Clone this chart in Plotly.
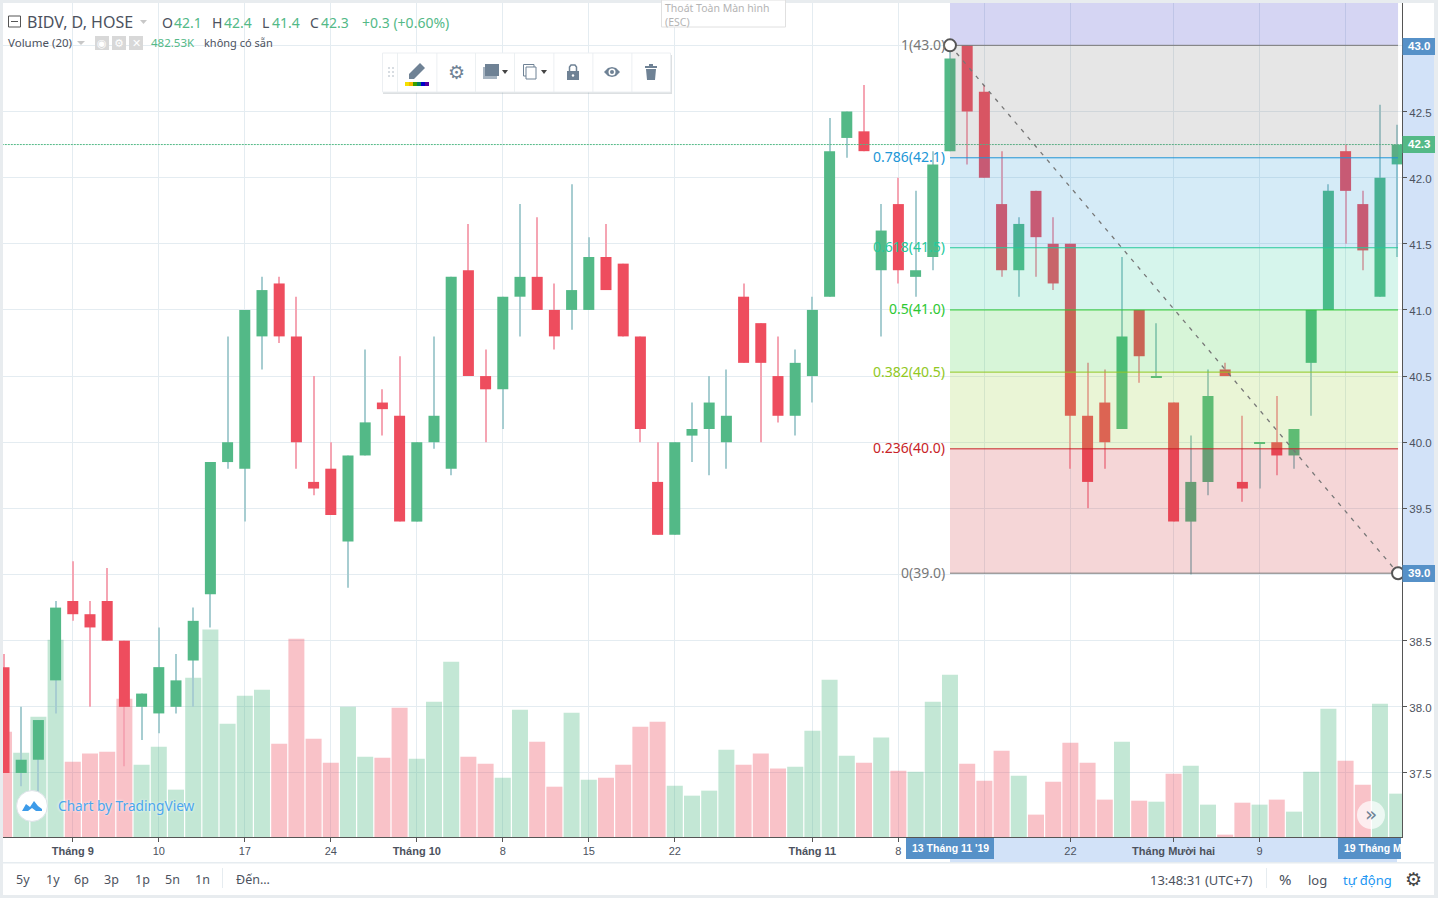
import plotly.graph_objects as go

opens = [38.3, 37.5, 37.6, 38.2, 38.8, 38.7, 38.8, 38.5, 38.0, 37.95, 38.0, 38.35, 38.85, 39.85, 39.8, 40.8, 41.2, 40.8, 39.7, 39.8, 39.25,
         39.9, 40.3, 40.2, 39.4, 40.0, 39.8, 41.3, 40.5, 40.4, 41.1, 41.25, 41.0, 41.0, 41.0, 41.4, 41.35, 40.8, 39.7, 39.3, 40.05,
         40.1, 40.0, 41.1, 40.9, 40.5, 40.2, 40.5, 41.1, 42.3, 42.35, 41.3, 41.8, 41.25, 41.4, 42.2, 43.0, 42.65, 41.8, 41.3, 41.9,
         41.5, 41.5, 40.2, 40.3, 40.1, 41.0, 40.49, 40.3, 39.4, 39.7, 40.55, 39.7, 39.99, 40.0, 39.9, 40.6, 41.0, 42.2, 41.8, 41.1, 42.1]
highs = [38.4, 38.0, 37.9, 38.8, 39.1, 38.8, 39.05, 38.5, 38.1, 38.6, 38.4, 38.75, 39.85, 40.8, 41.0, 41.25, 41.25, 41.1, 40.5, 40.0, 39.9,
         40.7, 40.4, 40.65, 40.0, 40.8, 41.25, 41.65, 40.7, 41.1, 41.8, 41.7, 41.2, 41.95, 41.55, 41.65, 41.35, 40.8, 40.0, 40.0, 40.3,
         40.5, 40.55, 41.2, 40.9, 40.8, 40.7, 41.1, 42.45, 42.5, 42.7, 41.8, 42.0, 41.9, 42.2, 43.0, 43.0, 42.7, 42.2, 41.7, 41.9,
         41.7, 41.5, 40.6, 40.55, 41.4, 41.0, 40.9, 40.3, 40.05, 40.55, 40.6, 40.2, 40.0, 40.35, 40.1, 41.0, 41.95, 42.25, 41.9, 42.55, 42.4]
lows = [37.5, 37.4, 37.35, 37.95, 38.65, 38.0, 38.5, 37.55, 37.75, 37.8, 37.95, 38.0, 38.6, 39.8, 39.4, 40.55, 40.75, 39.8, 39.6, 39.45, 38.9,
        39.9, 40.05, 39.4, 39.4, 39.95, 39.75, 40.5, 40.0, 40.1, 40.8, 41.0, 40.7, 40.85, 41.0, 41.15, 40.8, 40.0, 39.3, 39.3, 39.85,
        39.75, 39.8, 40.6, 40.0, 40.15, 40.05, 40.3, 41.1, 42.15, 42.2, 40.8, 41.2, 41.1, 41.3, 42.2, 42.1, 42.0, 41.25, 41.1, 41.25,
        41.15, 39.8, 39.5, 39.8, 40.1, 40.45, 40.49, 39.4, 39.0, 39.6, 40.5, 39.55, 39.65, 39.75, 39.8, 40.2, 41.0, 41.5, 41.3, 41.1, 41.4]
closes = [37.5, 37.6, 37.9, 38.75, 38.7, 38.6, 38.5, 38.0, 38.1, 38.3, 38.2, 38.65, 39.85, 40.0, 41.0, 41.15, 40.8, 40.0, 39.65, 39.45, 39.9,
          40.15, 40.25, 39.4, 40.0, 40.2, 41.25, 40.5, 40.4, 41.1, 41.25, 41.0, 40.8, 41.15, 41.4, 41.15, 40.8, 40.1, 39.3, 40.0, 40.1,
          40.3, 40.2, 40.6, 40.6, 40.2, 40.6, 41.0, 42.2, 42.5, 42.2, 41.6, 41.3, 41.3, 42.1, 42.9, 42.5, 42.0, 41.3, 41.65, 41.55,
          41.2, 40.2, 39.7, 40.0, 40.8, 40.65, 40.5, 39.4, 39.7, 40.35, 40.5, 39.65, 40.0, 39.9, 40.1, 41.0, 41.9, 41.9, 41.45, 42.0, 42.25]
# volume in thousands
volumes = [1172, 939, 1339, 2196, 838, 928, 950, 1540, 805, 1005, 527, 1773, 2308, 1261, 1573, 1640, 1039, 2207, 1094, 827, 1450,
           894, 883, 1439, 872, 1506, 1951, 894, 816, 660, 1417, 1061, 560, 1384, 638, 660, 805, 1228, 1284, 571, 460,
           516, 972, 805, 928, 761, 783, 1183, 1751, 905, 827, 1106, 738, 727, 1506, 1807, 816, 627, 961, 683, 249,
           616, 1050, 827, 416, 1061, 404, 393, 705, 794, 360, 26, 382, 360, 416, 282, 727, 1428, 850, 582, 1484, 482.53]

tick_idx = [4, 9, 14, 19, 24, 29, 34, 39, 47, 52, 57, 62, 68, 73, 78]
tick_text = ['<b>Tháng 9</b>', '10', '17', '24', '<b>Tháng 10</b>', '8', '15', '22', '<b>Tháng 11</b>', '8', '', '22',
             '<b>Tháng Mười hai</b>', '9', '']

fib_levels = ['1', '0.786', '0.618', '0.5', '0.382', '0.236', '0']
fib_prices = [43.0, 42.15, 41.47, 41.0, 40.53, 39.95, 39.01]
fib_labels = ['43.0', '42.1', '41.5', '41.0', '40.5', '40.0', '39.0']
fib_colors = ['#787878', '#2196d6', '#26c99b', '#2dc832', '#91c823', '#c82328', '#787878']
fib_top_color = '#2020c0'
fib_start, fib_end = 55, 81.05

GREEN, RED = '#53b987', '#ee4d5e'
GRID = '#e4ecf1'
SLATE = '#6f8295'
BLUE_TAG = '#5691c8'
BAND = '#d2e2f8'
TEXT = '#4c525e'
FONT = 'Noto Sans'
AXIS_FONT = 'Liberation Sans'

up = [c >= o for o, c in zip(opens, closes)]
idx = list(range(len(opens)))

P_L, P_R, P_T, P_B = 3, 1402, 3, 837


# page pixels to paper coordinates, for everything around the chart
def px(x):
    return (x - P_L) / (P_R - P_L)


def py(y):
    return 1 - (y - P_T) / (P_B - P_T)


def rect(x0, y0, x1, y1, fill, line=None, layer='above'):
    return dict(type='rect', xref='paper', yref='paper', x0=px(x0), x1=px(x1), y0=py(y0), y1=py(y1),
                fillcolor=fill, line=dict(color=line or fill, width=1 if line else 0), layer=layer)


def circle(cx, cy, r, fill, line=None):
    return dict(type='circle', xref='paper', yref='paper', x0=px(cx - r), x1=px(cx + r), y0=py(cy + r), y1=py(cy - r),
                fillcolor=fill, line=dict(color=line or fill, width=1 if line else 0), layer='above')


def poly(points, fill, line=None, close=True):
    d = 'M ' + ' L '.join(f'{px(x)} {py(y)}' for x, y in points) + (' Z' if close else '')
    return dict(type='path', xref='paper', yref='paper', path=d, fillcolor=fill,
                line=dict(color=line or fill, width=1.5 if line else 0), layer='above')


def note(text, x, y, size=12, color=TEXT, anchor='left', family=FONT, **kw):
    if anchor == 'left':
        x -= 1
    return dict(text=text, x=px(x), y=py(y), xref='paper', yref='paper', showarrow=False, xanchor=anchor, yanchor='middle',
                borderpad=0, font=dict(size=size, color=color, family=family, **kw.pop('font', {})), **kw)


fig = go.Figure()

fig.add_trace(go.Bar(x=idx, y=volumes, width=0.93, yaxis='y', hoverinfo='skip',
                     marker=dict(color=['rgba(83,185,135,0.35)' if u else 'rgba(238,77,94,0.34)' for u in up], line_width=0)))
fig.add_trace(go.Bar(x=idx, y=[h - l for h, l in zip(highs, lows)], base=lows, width=0.06, yaxis='y2', hoverinfo='skip',
                     marker=dict(color=['#a7cdd1' if u else '#f5a5b3' for u in up], line_width=0)))
fig.add_trace(go.Bar(x=idx, y=[abs(c - o) for o, c in zip(opens, closes)], base=[min(o, c) for o, c in zip(opens, closes)],
                     width=0.64, yaxis='y2', hoverinfo='skip',
                     marker=dict(color=[GREEN if u else RED for u in up], line_width=0)))

shapes = []
annotations = []

# page border and bands behind the axes
shapes.append(rect(3, 3, 1434, 895, 'white', layer='below'))
shapes.append(rect(1402.5, 46, 1434, 573, BAND, layer='below'))
shapes.append(rect(950, 838, 1397, 862, BAND, layer='below'))
shapes.append(rect(3, 862, 1434, 863.5, '#e6ecf0', layer='below'))

# last price line
shapes.append(dict(type='line', xref='x', yref='y2', x0=-1, x1=82, y0=closes[-1], y1=closes[-1],
                   line=dict(color=GREEN, width=1, dash='2px,1px'), layer='above'))

# fib retracement
y_top = 43.32
bands = [(y_top, fib_prices[0], fib_top_color)] + [
    (fib_prices[i], fib_prices[i + 1], fib_colors[i]) for i in range(len(fib_prices) - 1)]
for y0, y1, col in bands:
    shapes.append(dict(type='rect', xref='x', yref='y2', x0=fib_start, x1=fib_end, y0=y0, y1=y1,
                       fillcolor=col, opacity=0.19, line_width=0, layer='above'))
for lvl, price, lab, col in zip(fib_levels, fib_prices, fib_labels, fib_colors):
    shapes.append(dict(type='line', xref='x', yref='y2', x0=fib_start, x1=fib_end, y0=price, y1=price,
                       line=dict(color=col, width=1), layer='above'))
    annotations.append(dict(text=f'{lvl}({lab})', x=fib_start, y=price, xref='x', yref='y2', xshift=-4, yshift=1, showarrow=False,
                            xanchor='right', yanchor='middle', borderpad=0, font=dict(size=14, color=col, family=FONT)))
shapes.append(dict(type='line', xref='x', yref='y2', x0=fib_start, x1=fib_end, y0=fib_prices[0], y1=fib_prices[-1],
                   line=dict(color='#777777', width=1.3, dash='4px,6px'), layer='above'))
for xc, yc in [(fib_start, fib_prices[0]), (fib_end, fib_prices[-1])]:
    shapes.append(dict(type='circle', xref='x', yref='y2', xsizemode='pixel', ysizemode='pixel', xanchor=xc, yanchor=yc,
                       x0=-6, x1=6, y0=-6, y1=6, fillcolor='white', line=dict(color='#555555', width=2), layer='above'))

# price tags
for txt, y0, y1, col in [('43.0', 38, 55, BLUE_TAG), ('42.3', 136, 153, GREEN), ('39.0', 565, 582, BLUE_TAG)]:
    shapes.append(rect(1402.5, y0, 1435, y1, col))
    annotations.append(note(f'<b>{txt}</b>', 1419, (y0 + y1) / 2 - 0.5, 11.5, 'white', 'center', AXIS_FONT))

# date tags
for txt, x0, x1, tx in [("13 Tháng 11 '19", 906, 994, 912), ('19 Tháng M', 1338, 1401, 1344)]:
    shapes.append(rect(x0, 838, x1, 859, BLUE_TAG))
    annotations.append(note(f'<b>{txt}</b>', tx, 848, 10.5, 'white', 'left', AXIS_FONT))

# header
shapes.append(rect(8.5, 16, 20.5, 27, 'white', '#555555'))
shapes.append(rect(11, 21, 18, 22, '#555555'))
annotations.append(note('BIDV, D, HOSE', 27, 22, 16, TEXT))
shapes.append(poly([(140, 20), (147, 20), (143.5, 24)], '#c8c8c8'))
for txt, x, col in [('O', 162, TEXT), ('42.1', 174, GREEN), ('H', 212, TEXT), ('42.4', 224, GREEN), ('L', 262, TEXT),
                    ('41.4', 272, GREEN), ('C', 310, TEXT), ('42.3', 321, GREEN), ('+0.3 (+0.60%)', 362, GREEN)]:
    annotations.append(note(txt, x, 23, 14, col))
annotations.append(note('Volume (20)', 8, 42.5, 11.5, TEXT))
shapes.append(poly([(77, 41), (85, 41), (81, 45)], '#c8c8c8'))
for x, glyph in [(102, '◉'), (119, '⚙'), (136, '✕')]:
    shapes.append(rect(95 + x - 102, 36, 109 + x - 102, 50, '#d8d8d8'))
    annotations.append(note(glyph, x, 43, 11, 'white', 'center', 'DejaVu Sans'))
annotations.append(note('482.53K', 151, 42.5, 11.5, GREEN))
annotations.append(note('không có sẵn', 204, 42.5, 11, TEXT))

# exit fullscreen tooltip
shapes.append(rect(661.5, 0, 785.5, 27, 'white', '#e0e0e0'))
annotations.append(note('Thoát Toàn Màn hình<br>(ESC)', 665, 14.5, 10.5, '#b4b4b4', align='left'))

# drawing toolbar
shapes.append(rect(383, 55, 672, 94, 'rgba(120,130,140,0.25)'))
shapes.append(rect(382.5, 53, 670.5, 92, 'white', '#eceff2'))
for x in [397, 436.5, 475, 514, 553.5, 592.5, 631.5]:
    shapes.append(rect(x, 53, x + 0.8, 92, '#e8ecef'))
for x in [388, 392]:
    for y in [67, 71, 75]:
        shapes.append(rect(x, y, x + 2, y + 2, '#d8dde2'))
shapes.append(poly([(409, 79), (409, 74), (420, 63), (425, 68), (414, 79)], SLATE))
for i, col in enumerate(['#f5e000', '#f5b800', '#3aa000', '#008060', '#0000c8', '#5000a0']):
    shapes.append(rect(405 + i * 4, 82, 409 + i * 4, 86, col))
annotations.append(note('⚙', 456, 72, 19, SLATE, 'center', 'DejaVu Sans'))
shapes.append(rect(483, 67, 497, 79, '#a7b4c1'))
shapes.append(rect(485, 64, 499, 76, SLATE))
shapes.append(poly([(502, 70), (508, 70), (505, 74)], '#444444'))
shapes.append(rect(523.5, 64.5, 534, 76, 'white', SLATE))
shapes.append(rect(526, 67, 536, 79, 'white', SLATE))
shapes.append(poly([(541, 70), (547, 70), (544, 74)], '#444444'))
shapes.append(rect(567, 71, 579, 80, SLATE))
shapes.append(poly([(569.5, 71), (569.5, 67), (571, 65), (575, 65), (576.5, 67), (576.5, 71)], 'rgba(0,0,0,0)', SLATE, close=False))
shapes.append(circle(573, 75.5, 1.2, 'white'))
shapes.append(poly([(604, 72), (608, 68), (612, 67), (616, 68), (620, 72), (616, 76), (612, 77), (608, 76)], SLATE))
shapes.append(circle(612, 72, 3.5, 'white'))
shapes.append(circle(612, 72, 2, SLATE))
shapes.append(rect(645, 66, 657, 68, SLATE))
shapes.append(rect(649, 64, 653, 66, SLATE))
shapes.append(poly([(646, 69), (656, 69), (655, 80), (647, 80)], SLATE))

# watermark
shapes.append(circle(32, 806, 15.5, 'white', '#dde3e8'))
shapes.append(poly([(22, 811), (26, 804), (30, 807), (34, 801), (38, 806), (42, 809), (42, 811), (36, 811), (32, 808), (28, 811)], '#3d9be9'))
annotations.append(note('Chart by TradingView', 58, 805, 13.7, '#4ba6ee', font=dict(shadow='white 0 0 3px')))
shapes.append(circle(1371, 815, 14, 'rgba(255,255,255,0.7)'))
annotations.append(note('»', 1371, 814, 20, SLATE, 'center', 'DejaVu Sans'))

# bottom bar
for txt, x in [('5y', 16), ('1y', 46), ('6p', 74), ('3p', 104), ('1p', 135), ('5n', 165), ('1n', 195), ('Đến...', 236)]:
    annotations.append(note(txt, x, 880, 12.5, TEXT))
shapes.append(rect(222, 868, 223, 888, '#e6ecf0'))
shapes.append(rect(1266, 868, 1267, 888, '#e6ecf0'))
annotations.append(note('13:48:31 (UTC+7)', 1150, 880, 13, TEXT))
annotations.append(note('%', 1279, 879, 15, TEXT))
annotations.append(note('log', 1308, 880, 13, TEXT))
annotations.append(note('tự động', 1343, 880, 13, '#2196f3'))
annotations.append(note('⚙', 1413, 879, 19, '#444444', 'center', 'DejaVu Sans'))

fig.update_layout(
    width=1438, height=898,
    margin=dict(l=P_L, r=1438 - P_R, t=P_T, b=898 - P_B, pad=0),
    paper_bgcolor='#e8ecef', plot_bgcolor='rgba(0,0,0,0)',
    barmode='overlay', showlegend=False, dragmode=False,
    shapes=shapes, annotations=annotations,
    xaxis=dict(range=[-0.058, 81.28], tickmode='array', tickvals=tick_idx, ticktext=tick_text,
               showgrid=True, gridcolor=GRID, gridwidth=1, zeroline=False, showline=True, linecolor='#555555',
               ticks='outside', ticklen=4, tickcolor='#555555', tickfont=dict(family=AXIS_FONT, size=11, color=TEXT),
               fixedrange=True),
    yaxis=dict(range=[0, 9282], visible=False, fixedrange=True),
    yaxis2=dict(range=[37.016, 43.32], overlaying='y', side='right', tick0=37.5, dtick=0.5, tickformat='.1f',
                showgrid=True, gridcolor=GRID, gridwidth=1, zeroline=False, showline=True, linecolor='#555555',
                ticks='outside', ticklen=4, tickcolor='#555555', tickfont=dict(family=AXIS_FONT, size=11.5, color=TEXT),
                ticklabelshift=1, fixedrange=True),
)

# the browser's default body margin would push the page off by 8px
fig.write_html("out.html", config={'displayModeBar': False},
               post_script="document.body.style.margin='0';document.body.style.overflow='hidden';")
